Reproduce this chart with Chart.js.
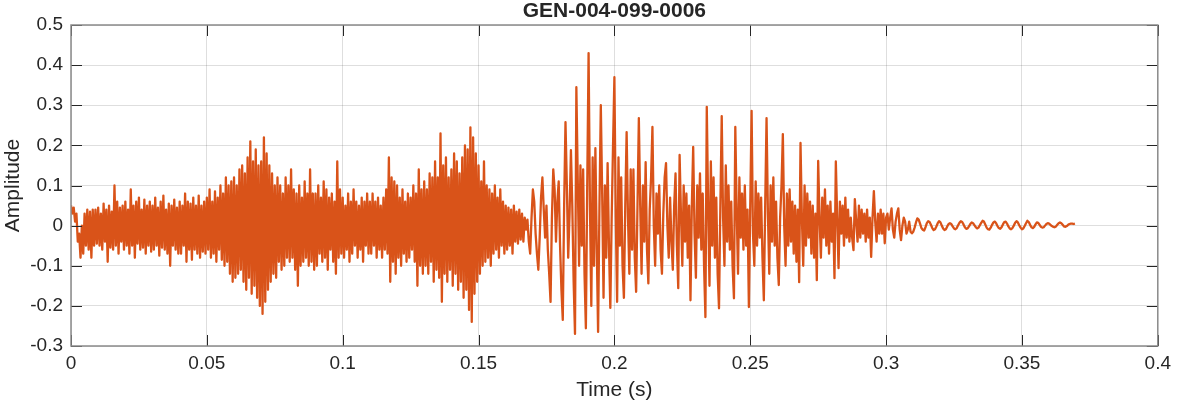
<!DOCTYPE html>
<html>
<head>
<meta charset="utf-8">
<script src="https://cdn.jsdelivr.net/npm/chart.js@4.4.0/dist/chart.umd.min.js"></script>
<style>
  html, body { margin: 0; padding: 0; background: #ffffff; }
  #wrap { width: 1177px; height: 404px; position: relative; }
</style>
</head>
<body>
<div id="wrap"><canvas id="waveChart"></canvas></div>
<script>
// Sampling step of the traced waveform (s)
const sampleStep = 0.0005;

// Axis ticks
const xTicks = [0, 0.05, 0.1, 0.15, 0.2, 0.25, 0.3, 0.35, 0.4];
const yTicks = [-0.3, -0.2, -0.1, 0, 0.1, 0.2, 0.3, 0.4, 0.5];

// 0.00 - 0.17 s : noisy part (one row = 0.01 s)
const noiseAmp = [
  0.05, 0.03, 0.045, 0.01, 0.03, -0.04, -0.02, -0.08, 0.0, -0.07, 0.03, -0.05, 0.04, -0.06, 0.035, -0.08, 0.04, -0.05, 0.04, -0.045,
  0.045, -0.05, 0.03, -0.06, 0.055, -0.04, 0.04, -0.09, 0.05, -0.055, 0.035, -0.06, 0.1, -0.05, 0.06, -0.07, 0.045, -0.04, 0.05, -0.06,
  0.06, -0.05, 0.04, -0.07, 0.09, -0.05, 0.05, -0.08, 0.06, -0.045, 0.07, -0.06, 0.04, -0.055, 0.065, -0.07, 0.05, -0.05, 0.06, -0.065,
  0.05, -0.06, 0.07, -0.05, 0.045, -0.075, 0.06, -0.055, 0.075, -0.06, 0.04, -0.07, 0.055, -0.1, 0.05, -0.05, 0.065, -0.06, 0.045, -0.07,
  0.06, -0.07, 0.05, -0.05, 0.08, -0.09, 0.06, -0.06, 0.055, -0.085, 0.07, -0.06, 0.05, -0.07, 0.075, -0.08, 0.05, -0.065, 0.06, -0.07,
  0.07, -0.06, 0.09, -0.08, 0.06, -0.07, 0.085, -0.09, 0.07, -0.06, 0.1, -0.085, 0.08, -0.1, 0.12, -0.09, 0.1, -0.12, 0.11, -0.14,
  0.12, -0.13, 0.1, -0.12, 0.14, -0.11, 0.15, -0.14, 0.13, -0.16, 0.17, -0.13, 0.21, -0.17, 0.16, -0.15, 0.19, -0.18, 0.15, -0.2,
  0.16, -0.22, 0.22, -0.19, 0.18, -0.16, 0.15, -0.14, 0.13, -0.12, 0.1, -0.13, 0.12, -0.09, 0.1, -0.11, 0.08, -0.1, 0.12, -0.08,
  0.1, -0.09, 0.14, -0.08, 0.09, -0.11, 0.08, -0.15, 0.1, -0.1, 0.07, -0.09, 0.11, -0.08, 0.08, -0.1, 0.14, -0.09, 0.08, -0.11,
  0.08, -0.1, 0.1, -0.07, 0.07, -0.09, 0.11, -0.08, 0.09, -0.11, 0.07, -0.06, 0.08, -0.09, 0.06, -0.12, 0.16, -0.08, 0.09, -0.07,
  0.07, -0.08, 0.05, -0.06, 0.08, -0.09, 0.06, -0.07, 0.09, -0.05, 0.06, -0.08, 0.05, -0.06, 0.07, -0.09, 0.06, -0.05, 0.08, -0.07,
  0.06, -0.07, 0.08, -0.05, 0.06, -0.08, 0.07, -0.06, 0.05, -0.08, 0.07, -0.06, 0.09, -0.07, 0.17, -0.14, 0.12, -0.09, 0.11, -0.12,
  0.1, -0.08, 0.07, -0.1, 0.09, -0.07, 0.06, -0.09, 0.08, -0.08, 0.07, -0.06, 0.1, -0.09, 0.08, -0.15, 0.14, -0.1, 0.09, -0.12,
  0.11, -0.1, 0.09, -0.12, 0.13, -0.09, 0.12, -0.14, 0.16, -0.11, 0.12, -0.13, 0.23, -0.19, 0.15, -0.12, 0.17, -0.14, 0.12, -0.11,
  0.14, -0.15, 0.18, -0.12, 0.16, -0.16, 0.13, -0.14, 0.17, -0.18, 0.2, -0.16, 0.19, -0.21, 0.245, -0.24, 0.22, -0.17, 0.18, -0.14,
  0.15, -0.12, 0.11, -0.1, 0.16, -0.09, 0.1, -0.08, 0.09, -0.1, 0.08, -0.07, 0.1, -0.06, 0.07, -0.08, 0.09, -0.05, 0.06, -0.07,
  0.05, -0.06, 0.045, -0.05, 0.04, -0.07, 0.05, -0.04, 0.035, -0.045, 0.04, -0.035, 0.03, -0.04, 0.02, -0.01, 0.015, -0.04, -0.07, 0.02
];

// 0.17 - 0.31 s : voiced part (one row = 0.01 s)
const voicedAmp = [
  0.09, 0.06, -0.02, -0.07, -0.11, -0.03, 0.07, 0.12, 0.04, -0.03, 0.05, -0.06, -0.12, -0.19, 0.02, 0.14, 0.09, -0.04, 0.06, 0.11,
  -0.05, -0.16, -0.235, 0.05, 0.258, 0.1, -0.08, 0.03, 0.188, 0.05, -0.14, -0.27, 0.345, 0.12, -0.1, 0.15, -0.05, 0.14, -0.12, -0.256,
  0.1, 0.43, 0.05, -0.2, 0.17, -0.1, 0.193, -0.05, -0.265, 0.05, 0.3, 0.08, -0.18, 0.1, -0.08, 0.156, -0.05, -0.205, 0.02, 0.2,
  0.37, 0.02, -0.19, 0.17, -0.05, 0.12, -0.1, -0.18, 0.05, 0.233, 0.02, -0.12, 0.14, -0.06, 0.14, -0.08, -0.165, 0.05, 0.268, 0.05,
  -0.12, 0.1, -0.04, 0.158, -0.06, -0.144, 0.04, 0.12, 0.246, 0.0, -0.1, 0.08, -0.02, 0.1, -0.06, -0.12, 0.03, 0.12, 0.156, 0.0,
  -0.08, 0.07, -0.04, -0.11, 0.05, 0.13, -0.05, -0.156, 0.176, 0.03, -0.1, 0.1, -0.04, 0.08, -0.08, 0.05, -0.186, 0.05, 0.196, -0.02,
  -0.13, 0.1, -0.03, 0.13, -0.06, 0.08, -0.1, -0.228, 0.296, 0.05, -0.15, 0.16, -0.05, 0.12, -0.08, 0.07, -0.12, -0.206, 0.05, 0.273,
  0.02, -0.1, 0.15, -0.04, 0.1, -0.06, 0.06, -0.1, -0.181, 0.246, 0.04, -0.12, 0.12, -0.03, 0.08, -0.06, 0.1, -0.05, 0.04, -0.203,
  0.05, 0.286, -0.02, -0.1, 0.11, -0.05, 0.08, -0.03, 0.07, -0.08, -0.186, 0.05, 0.268, 0.03, -0.12, 0.1, -0.04, 0.12, -0.05, 0.06,
  -0.08, -0.148, 0.02, 0.1, 0.228, 0.0, -0.1, 0.08, -0.05, 0.09, -0.04, 0.06, -0.07, 0.05, -0.09, 0.04, -0.141, 0.206, 0.02, -0.1,
  0.1, -0.05, 0.08, -0.03, 0.06, -0.07, 0.05, -0.08, 0.03, -0.136, 0.161, 0.02, -0.08, 0.07, -0.03, 0.09, -0.05, 0.05, -0.07, 0.06,
  -0.04, 0.03, -0.131, 0.16, 0.02, -0.106, 0.06, -0.02, 0.05, -0.05, 0.07, -0.03, 0.04, -0.04, 0.02, -0.03, -0.061, 0.066, 0.01, -0.04,
  0.05, -0.03, 0.04, -0.02, 0.03, -0.04, 0.04, -0.03, 0.02, -0.078, 0.02, 0.086, 0.01, -0.04, 0.03, -0.02, 0.04, -0.02, 0.03, -0.044,
  0.02, 0.03, -0.01, 0.02, 0.043, -0.01, -0.03, 0.01, 0.03, 0.043, -0.01, -0.036, 0.0, 0.02, 0.01, -0.02, -0.01, 0.01, -0.015, -0.019
];

// 0.31 - 0.37 s : decaying tail
const tailAmp = [
  -0.015, -0.005, 0.008, 0.018, 0.015, 0.005, -0.006, -0.01,
  -0.012, -0.004, 0.006, 0.011, 0.009, 0.002, -0.006, -0.011,
  -0.009, -0.002, 0.006, 0.011, 0.008, 0.0, -0.007, -0.011,
  -0.009, -0.002, 0.004, 0.006, 0.004, -0.002, -0.007, -0.009,
  -0.006, 0.001, 0.007, 0.011, 0.009, 0.003, -0.004, -0.008,
  -0.007, -0.002, 0.004, 0.008, 0.006, 0.001, -0.004, -0.007,
  -0.005, 0.001, 0.007, 0.012, 0.01, 0.003, -0.005, -0.009,
  -0.01, -0.005, 0.002, 0.008, 0.01, 0.006, -0.001, -0.006,
  -0.008, -0.004, 0.003, 0.009, 0.01, 0.005, -0.002, -0.007,
  -0.009, -0.006, 0.0, 0.007, 0.011, 0.008, 0.001, -0.005,
  -0.009, -0.007, -0.001, 0.006, 0.012, 0.009, 0.002, -0.004,
  -0.006, -0.003, 0.003, 0.008, 0.007, 0.002, -0.003, -0.005,
  -0.004, 0.0, 0.004, 0.006, 0.005, 0.002, -0.001, -0.003,
  -0.004, -0.002, 0.002, 0.006, 0.008, 0.006, 0.002, -0.002,
  -0.003, -0.001, 0.002, 0.004, 0.005, 0.005, 0.004, 0.005
];

const amplitude = noiseAmp.concat(voicedAmp, tailAmp);
const points = amplitude.map(function (v, i) {
  return { x: i * sampleStep, y: v };
});

const FONT = '"Liberation Sans", Arial, Helvetica, sans-serif';
const TEXT = '#262626';

// Box, inner tick marks and titles in the MATLAB style
const matlabFrame = {
  id: 'matlabFrame',
  afterDraw(chart) {
    const ctx = chart.ctx;
    const a = chart.chartArea;
    const xs = chart.scales.x, ys = chart.scales.y;
    ctx.save();

    ctx.strokeStyle = TEXT;
    ctx.lineWidth = 1;
    ctx.beginPath();
    xTicks.forEach(function (t) {
      const px = Math.round(xs.getPixelForValue(t)) + 0.5;
      ctx.moveTo(px, a.bottom); ctx.lineTo(px, a.bottom - 11);
      ctx.moveTo(px, a.top); ctx.lineTo(px, a.top + 11);
    });
    yTicks.forEach(function (t) {
      const py = Math.round(ys.getPixelForValue(t)) + 0.5;
      ctx.moveTo(a.left, py); ctx.lineTo(a.left + 11, py);
      ctx.moveTo(a.right, py); ctx.lineTo(a.right - 11, py);
    });
    ctx.stroke();

    ctx.strokeStyle = '#8a8a8a';
    ctx.lineWidth = 1.5;
    ctx.strokeRect(a.left, a.top, a.right - a.left, a.bottom - a.top);

    ctx.fillStyle = TEXT;
    ctx.textAlign = 'center';
    ctx.textBaseline = 'middle';
    ctx.font = 'bold 21px ' + FONT;
    ctx.fillText('GEN-004-099-0006', (a.left + a.right) / 2, 11);

    ctx.font = '21px ' + FONT;
    ctx.fillText('Time (s)', (a.left + a.right) / 2, 390);

    ctx.translate(13, (a.top + a.bottom) / 2);
    ctx.rotate(-Math.PI / 2);
    ctx.fillText('Amplitude', 0, 0);
    ctx.restore();
  }
};

new Chart(document.getElementById('waveChart'), {
  type: 'line',
  data: {
    datasets: [{
      data: points,
      borderColor: '#D95319',
      borderWidth: 2.3,
      borderJoinStyle: 'round',
      pointRadius: 0,
      tension: 0,
      fill: false
    }]
  },
  options: {
    responsive: true,
    maintainAspectRatio: false,
    animation: false,
    devicePixelRatio: 1,
    layout: { padding: { left: 0, top: 25, right: 16, bottom: 0 } },
    plugins: {
      legend: { display: false },
      tooltip: { enabled: false }
    },
    scales: {
      x: {
        type: 'linear',
        min: 0,
        max: 0.4,
        afterFit: function (scale) { scale.height = 58; },
        afterBuildTicks: function (scale) {
          scale.ticks = xTicks.map(function (v) { return { value: v }; });
        },
        ticks: {
          color: TEXT,
          font: { family: FONT, size: 19 },
          padding: 6,
          maxRotation: 0,
          callback: function (v) { return String(Math.round(v * 100) / 100); }
        },
        grid: { color: 'rgba(0,0,0,0.13)', lineWidth: 1, drawTicks: false },
        border: { display: false }
      },
      y: {
        min: -0.3,
        max: 0.5,
        afterFit: function (scale) { scale.width = 71; },
        afterBuildTicks: function (scale) {
          scale.ticks = yTicks.map(function (v) { return { value: v }; });
        },
        ticks: {
          color: TEXT,
          font: { family: FONT, size: 19 },
          padding: 8,
          callback: function (v) { return String(Math.round(v * 10) / 10); }
        },
        grid: { color: 'rgba(0,0,0,0.13)', lineWidth: 1, drawTicks: false },
        border: { display: false }
      }
    }
  },
  plugins: [matlabFrame]
});
</script>
</body>
</html>
